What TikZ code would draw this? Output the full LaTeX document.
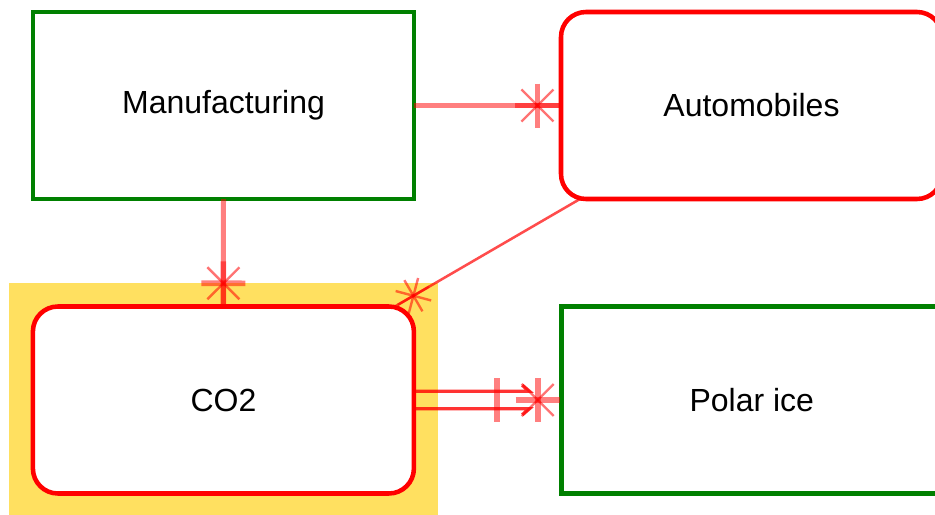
\documentclass[tikz,border=0pt]{standalone}
\usepackage{fontspec}
\setmainfont{Liberation Sans}
\usetikzlibrary{calc}
\definecolor{boxgreen}{RGB}{0,128,0}
\definecolor{boxred}{RGB}{255,0,0}
\definecolor{hlyellow}{RGB}{255,224,96}
\begin{document}
\begin{tikzpicture}[x=0.75pt,y=-0.75pt,
  box/.style={draw, fill=white, line width=3.4pt, minimum width=285.75pt,
    minimum height=140.25pt, outer sep=0pt, inner sep=0pt,
    font=\fontsize{24}{28}\selectfont},
  greenbox/.style={box, draw=boxgreen},
  redbox/.style={box, draw=boxred, rounded corners=18.75pt},
  conn/.style={draw=boxred, draw opacity=0.5, line width=3.75pt},
  thinconn/.style={draw=boxred, draw opacity=0.7, line width=1.9pt},
  dblline/.style={draw=boxred, draw opacity=0.8, line width=2.6pt},
  starthick/.style={draw=boxred, draw opacity=0.5, line width=4.2pt},
  starthin/.style={draw=boxred, draw opacity=0.55, line width=1.8pt},
  manystar/.pic={
    \draw[starthick] (-22,0) -- (22,0);
    \draw[starthick] (0,-22) -- (0,22);
    \draw[starthin] (-16,-16) -- (16,16);
    \draw[starthin] (-16,16) -- (16,-16);
  },
  thinstar/.pic={
    \draw[starthin] (-18,0) -- (18,0);
    \draw[starthin] (0,-18) -- (0,18);
    \draw[starthin] (-13,-13) -- (13,13);
    \draw[starthin] (-13,13) -- (13,-13);
  },
  onebar/.pic={\draw[starthick] (0,-22) -- (0,22);}
]
\useasboundingbox (0,0) rectangle (935,514);
\clip (0,0) rectangle (935,514);

% boxes
\node[greenbox] (man) at (223.5,105.5) {Manufacturing};
\node[redbox] (auto) at (751.5,105.5) {Automobiles};
\node[greenbox] (ice) at (751.8,400) {Polar ice};

% highlight behind CO2
\fill[hlyellow] (8.9,283) rectangle (437.5,520);
\node[redbox] (co2) at (223.4,400) {CO2};

% Manufacturing -> Automobiles
\draw[conn] (man.east) -- (auto.west) pic[pos=0.84, sloped] {manystar};

% Manufacturing -> CO2
\draw[conn] (man.south) -- (co2.north) pic[pos=0.784, sloped] {manystar};

% Automobiles -> CO2
\coordinate (autoS) at ($(auto.south west)+(19,0)$);
\coordinate (co2N) at ($(co2.north east)+(-19,0)$);
\draw[thinconn] (autoS) -- (co2N) pic[pos=0.9, sloped] {thinstar};

% CO2 -> Polar ice (double line)
\coordinate (dA) at ($(co2.east)+(0,-8.75)$);
\coordinate (dB) at ($(co2.east)+(0,8.75)$);
\coordinate (eA) at ($(ice.west)+(-32,-8.75)$);
\coordinate (eB) at ($(ice.west)+(-32,8.75)$);
\draw[dblline] (dA) -- (eA) -- ++(-7,-6);
\draw[dblline] (dB) -- (eB) -- ++(-7,6);
\path (co2.east) -- (ice.west)
  pic[pos=0.565, sloped] {onebar}
  pic[pos=0.84, sloped] {manystar};
\end{tikzpicture}
\end{document}
